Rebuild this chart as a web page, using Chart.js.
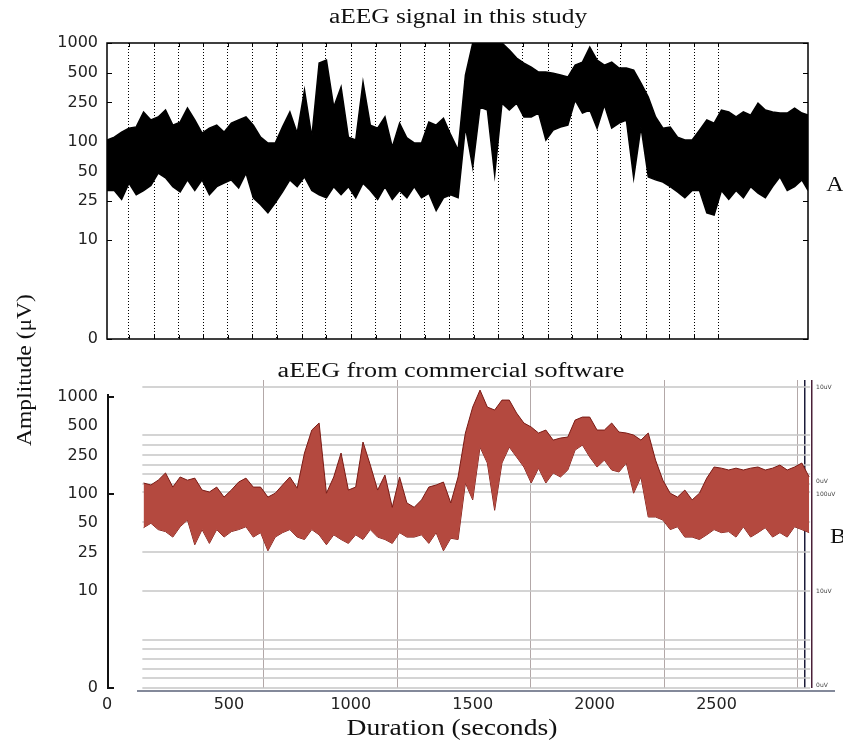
<!DOCTYPE html>
<html>
<head>
<meta charset="utf-8">
<script src="https://cdn.jsdelivr.net/npm/chart.js@4.4.1/dist/chart.umd.min.js"></script>
<style>
  html, body { margin: 0; padding: 0; background: #fff; }
  #wrap { position: relative; width: 843px; height: 742px; }
  #wrap canvas { position: absolute; left: 0; top: 0; }
</style>
</head>
<body>
<div id="wrap">
  <canvas id="chartB" width="843" height="742"></canvas>
  <canvas id="chartA" width="843" height="742"></canvas>
</div>
<script>
// amplitude ticks (µV) and duration ticks (s)
const yTickValues = [0, 10, 25, 50, 100, 250, 500, 1000];
const xTickValues = [0, 500, 1000, 1500, 2000, 2500];

// dotted guide lines of panel A (s)
const gridSecondsA = [90, 193, 295, 394, 496, 595, 697, 800, 898, 1001, 1103, 1202, 1304,
    1403, 1505, 1604, 1706, 1809, 1907, 2010, 2108, 2211, 2305, 2408, 2506];

// panel A: upper / lower margin of the aEEG band (µV)
const timesA = [0, 30, 60, 90, 120, 150, 180, 210, 240, 270, 300, 330, 360, 390, 420, 450, 480,
    510, 540, 570, 600, 630, 660, 690, 720, 750, 780, 810, 840, 870, 900, 930, 960, 990, 1020,
    1050, 1080, 1110, 1140, 1170, 1200, 1230, 1260, 1290, 1320, 1350, 1380, 1410, 1440, 1470,
    1500, 1530, 1560, 1590, 1620, 1650, 1680, 1710, 1740, 1770, 1800, 1830, 1860, 1890, 1920,
    1950, 1980, 2010, 2040, 2070, 2100, 2130, 2160, 2190, 2220, 2250, 2280, 2310, 2340, 2370,
    2400, 2430, 2460, 2490, 2520, 2550, 2580, 2610, 2640, 2670, 2700, 2730, 2760, 2790, 2820,
    2850, 2875];
const upperA = [104, 111, 125, 137, 141, 200, 166, 178, 209, 147,
    158, 219, 166, 122, 137, 147, 125, 154, 166, 178,
    147, 111, 97, 97, 141, 200, 122, 333, 111, 625,
    671, 224, 357, 111, 104, 402, 147, 137, 178, 88,
    154, 109, 97, 97, 158, 147, 173, 117, 82, 473,
    1000, 1000, 1000, 1000, 1000, 848, 703, 625, 570, 507,
    507, 495, 473, 452, 597, 640, 908, 671, 597, 640,
    557, 557, 531, 393, 283, 178, 137, 141, 111, 104,
    104, 131, 166, 154, 209, 200, 178, 200, 186, 246,
    209, 200, 195, 195, 219, 195, 186];
const lowerA = [32, 32, 26, 38, 29, 32, 36, 48, 43, 35,
    31, 41, 32, 41, 29, 35, 38, 41, 34, 48,
    27, 23, 19, 24, 31, 41, 35, 44, 32, 29,
    27, 35, 29, 35, 27, 38, 32, 26, 35, 26,
    32, 27, 35, 27, 30, 20, 27, 29, 27, 141,
    55, 224, 209, 46, 246, 209, 246, 178, 178, 195,
    104, 131, 141, 147, 264, 195, 209, 137, 235, 137,
    154, 166, 43, 141, 44, 41, 39, 35, 31, 27,
    32, 32, 19, 18, 32, 26, 32, 27, 35, 30,
    27, 35, 44, 32, 35, 41, 32];

// panel B: commercial software trace (µV)
const timesB = [150, 180, 210, 240, 270, 300, 330, 360, 390, 420, 450, 480, 510, 540, 570, 600,
    630, 660, 690, 720, 750, 780, 810, 840, 870, 900, 930, 960, 990, 1020, 1050, 1080, 1110,
    1140, 1170, 1200, 1230, 1260, 1290, 1320, 1350, 1380, 1410, 1440, 1470, 1500, 1530, 1560,
    1590, 1620, 1650, 1680, 1710, 1740, 1770, 1800, 1830, 1860, 1890, 1920, 1950, 1980, 2010,
    2040, 2070, 2100, 2130, 2160, 2190, 2220, 2250, 2280, 2310, 2340, 2370, 2400, 2430, 2460,
    2490, 2520, 2550, 2580, 2610, 2640, 2670, 2700, 2730, 2760, 2790, 2820, 2850, 2880];
const upperB = [130, 124, 139, 165, 118, 150, 139, 146, 110, 105,
    118, 93, 110, 133, 146, 118, 118, 93, 102, 124,
    150, 115, 265, 457, 540, 102, 150, 265, 110, 118,
    344, 199, 110, 157, 73, 150, 81, 73, 87, 118,
    124, 133, 81, 150, 426, 789, 1180, 789, 735, 931,
    931, 684, 540, 491, 426, 457, 360, 378, 387, 579,
    622, 622, 457, 457, 540, 436, 426, 406, 360, 426,
    224, 139, 102, 93, 110, 87, 102, 146, 190, 185,
    177, 185, 177, 185, 190, 177, 185, 199, 177, 190,
    209, 150];
const lowerB = [45, 50, 43, 41, 36, 46, 54, 30, 43, 31,
    43, 36, 41, 43, 46, 36, 40, 26, 36, 40,
    43, 36, 34, 43, 38, 30, 38, 34, 31, 38,
    34, 43, 36, 34, 31, 40, 36, 36, 38, 31,
    40, 26, 35, 34, 130, 87, 305, 209, 68, 209,
    305, 241, 190, 130, 185, 130, 165, 150, 177, 284,
    320, 241, 190, 224, 177, 169, 209, 102, 150, 58,
    58, 54, 43, 46, 36, 36, 34, 38, 43, 40,
    41, 36, 46, 36, 40, 45, 36, 40, 36, 46,
    43, 40];

// grid of the commercial display pasted in panel B
const commercialGridUv = [0, 1, 2, 3, 4, 5, 10, 25, 51, 105, 127, 161, 199, 252, 320, 406, 1268];
const commercialGridSeconds = [640, 1190, 1739, 2285, 2834, 2863, 2892];
const commercialLabels = ["10uV", "0uV", "100uV", "10uV", "0uV"];
const commercialLabelUv = [1268, 136, 98, 10, 0.3];

const SERIF = '"Liberation Serif", "DejaVu Serif", serif';
const SANS = '"DejaVu Sans", sans-serif';

// aEEG amplitude axis: linear 0-10 µV, logarithmic above
function toT(v) {
    return v <= 10 ? v / 10 : 1 + Math.log10(v / 10);
}
function fromT(t) {
    return t <= 1 ? t * 10 : Math.pow(10, t);
}

class AeegScale extends Chart.Scale {
    determineDataLimits() {
        this.min = 0;
        this.max = this.options.max;
    }
    buildTicks() {
        return yTickValues.map(v => ({ value: v }));
    }
    getLabelForValue(v) {
        return String(v);
    }
    getPixelForValue(v) {
        return this.getPixelForDecimal(toT(v) / toT(this.max));
    }
    getValueForPixel(p) {
        return fromT(this.getDecimalForPixel(p) * toT(this.max));
    }
}
AeegScale.id = "aeeg";
AeegScale.defaults = {};
Chart.register(AeegScale);

function points(times, vals) {
    return times.map((t, i) => ({ x: t, y: vals[i] }));
}

// draws free text (stretched serif like the figure)
const panelText = {
    id: "panelText",
    afterDraw(chart, args, opts) {
        const ctx = chart.ctx;
        (opts.items || []).forEach(it => {
            ctx.save();
            ctx.translate(it.x, it.y);
            if (it.rot) ctx.rotate(it.rot);
            ctx.scale(it.sx || 1, 1);
            ctx.font = `${it.size}px ${it.family || SERIF}`;
            ctx.fillStyle = it.color || "#111";
            ctx.textAlign = "center";
            ctx.textBaseline = "middle";
            ctx.fillText(it.text, 0, 0);
            ctx.restore();
        });
    }
};

// frame + inward ticks of panel A
const frameA = {
    id: "frameA",
    afterDraw(chart) {
        const { ctx, chartArea: a } = chart;
        const xs = chart.scales.x, ys = chart.scales.y;
        ctx.save();
        ctx.strokeStyle = "#000";
        ctx.lineWidth = 1;
        ctx.beginPath();
        ys.ticks.forEach(t => {
            const y = Math.round(ys.getPixelForValue(t.value)) + 0.5;
            ctx.moveTo(a.left, y); ctx.lineTo(a.left + 5, y);
            ctx.moveTo(a.right, y); ctx.lineTo(a.right - 5, y);
        });
        xs.ticks.forEach(t => {
            const x = Math.round(xs.getPixelForValue(t.value)) + 0.5;
            ctx.moveTo(x, a.top); ctx.lineTo(x, a.top + 4);
            ctx.moveTo(x, a.bottom); ctx.lineTo(x, a.bottom - 4);
        });
        ctx.stroke();
        ctx.lineWidth = 1.5;
        ctx.strokeRect(a.left, a.top, a.right - a.left, a.bottom - a.top);
        ctx.restore();
    }
};

// grid lines, axes and small labels of the commercial display
const overlayB = {
    id: "overlayB",
    beforeDatasetsDraw(chart) {
        const ctx = chart.ctx;
        const xs = chart.scales.x, ys = chart.scales.y;
        const x1 = xs.getPixelForValue(145), x2 = xs.getPixelForValue(2884);
        ctx.save();
        ctx.strokeStyle = "#c6c6c6";
        ctx.lineWidth = 1.5;
        ctx.beginPath();
        commercialGridUv.forEach(v => {
            const y = Math.round(ys.getPixelForValue(v));
            ctx.moveTo(x1, y); ctx.lineTo(x2, y);
        });
        ctx.stroke();
        ctx.restore();
    },
    afterDraw(chart) {
        const { ctx, chartArea: a } = chart;
        const xs = chart.scales.x, ys = chart.scales.y;
        ctx.save();
        // amplitude axis
        ctx.strokeStyle = "#111";
        ctx.lineWidth = 2;
        ctx.beginPath();
        ctx.moveTo(a.left + 1, ys.getPixelForValue(1000) - 3);
        ctx.lineTo(a.left + 1, a.bottom);
        [1000, 100, 0].forEach(v => {
            const y = Math.round(ys.getPixelForValue(v));
            ctx.moveTo(a.left, y); ctx.lineTo(a.left + 7, y);
        });
        ctx.stroke();
        // duration axis
        ctx.strokeStyle = "#5a6278";
        ctx.lineWidth = 1.5;
        ctx.beginPath();
        ctx.moveTo(xs.getPixelForValue(123), a.bottom + 3);
        ctx.lineTo(a.right, a.bottom + 3);
        ctx.stroke();
        // labels of the commercial display
        ctx.fillStyle = "#444";
        ctx.font = `6px ${SANS}`;
        ctx.textBaseline = "middle";
        const lx = xs.getPixelForValue(2892) + 4;
        commercialLabels.forEach((s, i) => {
            ctx.fillText(s, lx, ys.getPixelForValue(commercialLabelUv[i]));
        });
        ctx.restore();
    }
};

const tickFont = { family: SANS, size: 16 };

new Chart(document.getElementById("chartB"), {
    type: "line",
    data: {
        datasets: [
            { data: points(timesB, upperB), borderColor: "#7a1a14", backgroundColor: "#b4493f",
              borderWidth: 1, fill: "+1", pointRadius: 0 },
            { data: points(timesB, lowerB), borderColor: "#7a1a14", borderWidth: 1,
              fill: false, pointRadius: 0 }
        ]
    },
    options: {
        responsive: false,
        animation: false,
        devicePixelRatio: 1,
        layout: { padding: { top: 380, right: 8, bottom: 14, left: 0 } },
        plugins: {
            legend: { display: false },
            tooltip: { enabled: false },
            panelText: {
                items: [
                    { text: "aEEG from commercial software", x: 451, y: 372, size: 20, sx: 1.31 },
                    { text: "Amplitude (\u03bcV)", x: 25, y: 370, size: 22, sx: 1.07, rot: -Math.PI / 2 },
                    { text: "Duration (seconds)", x: 452, y: 729, size: 24, sx: 1.15 },
                    { text: "B", x: 838, y: 537, size: 21, sx: 1.15 }
                ]
            }
        },
        scales: {
            x: {
                type: "linear", min: 0, max: 2986,
                afterBuildTicks: s => { s.ticks = xTickValues.map(v => ({ value: v })); },
                afterFit: s => { s.height = 40; },
                ticks: { color: "#222", font: tickFont, padding: 7, maxRotation: 0, autoSkip: false,
                         callback: v => String(v) },
                grid: { display: false, drawTicks: false },
                border: { display: false }
            },
            xg: {
                type: "linear", position: "bottom", min: 0, max: 2986,
                afterBuildTicks: s => { s.ticks = commercialGridSeconds.map(v => ({ value: v })); },
                afterFit: s => { s.height = 0; },
                ticks: { display: false },
                grid: {
                    drawTicks: false,
                    color: c => c.tick && c.tick.value > 2880 ? "#4a2038" : (c.tick && c.tick.value > 2850 ? "#1c1c3a" : "#b3a8a8"),
                    lineWidth: c => c.tick && c.tick.value > 2850 ? 1.5 : 1
                },
                border: { display: false }
            },
            y: {
                type: "aeeg", max: 1500,
                afterFit: s => { s.width = 107; },
                ticks: { color: "#222", font: tickFont, padding: 9, autoSkip: false },
                grid: { display: false, drawTicks: false },
                border: { display: false }
            }
        }
    },
    plugins: [overlayB, panelText]
});

new Chart(document.getElementById("chartA"), {
    type: "line",
    data: {
        datasets: [
            { data: points(timesA, upperA), borderColor: "#000", backgroundColor: "#000",
              borderWidth: 1.5, fill: "+1", pointRadius: 0 },
            { data: points(timesA, lowerA), borderColor: "#000", borderWidth: 1.5,
              fill: false, pointRadius: 0 }
        ]
    },
    options: {
        responsive: false,
        animation: false,
        devicePixelRatio: 1,
        layout: { padding: { top: 43, right: 35, bottom: 403, left: 0 } },
        plugins: {
            legend: { display: false },
            tooltip: { enabled: false },
            panelText: {
                items: [
                    { text: "aEEG signal in this study", x: 458, y: 18, size: 20, sx: 1.27 },
                    { text: "A", x: 835, y: 185, size: 21, sx: 1.15 }
                ]
            }
        },
        scales: {
            x: {
                type: "linear", min: 0, max: 2875,
                afterBuildTicks: s => { s.ticks = gridSecondsA.map(v => ({ value: v })); },
                afterFit: s => { s.height = 0; },
                ticks: { display: false },
                grid: { color: "#000", lineWidth: 1, drawTicks: false },
                border: { display: false, dash: [1, 2] }
            },
            y: {
                type: "aeeg", max: 1000,
                afterFit: s => { s.width = 107; },
                ticks: { color: "#222", font: tickFont, padding: 9, autoSkip: false },
                grid: { display: false, drawTicks: false },
                border: { display: false }
            }
        }
    },
    plugins: [frameA, panelText]
});
</script>
</body>
</html>
